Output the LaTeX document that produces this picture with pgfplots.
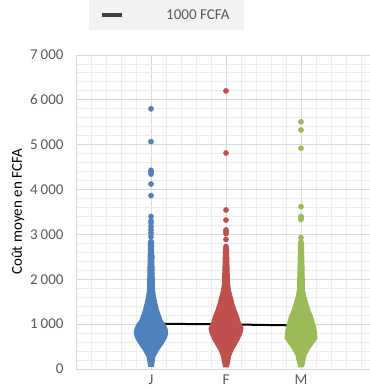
\documentclass[border=0pt]{standalone}
\usepackage{pgfplots}
\pgfplotsset{compat=1.18}
\usepackage{fontspec}
\setmainfont{Carlito}
\definecolor{cJ}{HTML}{4F81BD}
\definecolor{cF}{HTML}{C0504D}
\definecolor{cM}{HTML}{9BBB59}
\definecolor{txt}{HTML}{595959}
\definecolor{gmaj}{HTML}{D9D9D9}
\definecolor{gmin}{HTML}{EDEDED}
\definecolor{legbg}{HTML}{F2F2F2}
\begin{document}
\begin{tikzpicture}
\begin{axis}[
  width=300bp, height=314bp, scale only axis,
  xmin=0, xmax=4, ymin=0, ymax=7000,
  axis lines*=left,
  axis line style={gmaj, line width=0.9bp},
  xtick={1,2,3}, xticklabels={J,F,M},
  ytick={0,1000,...,7000},
  minor xtick={0,0.2,...,4},
  minor ytick={0,200,...,7000},
  major tick length=0pt, minor tick length=0pt,
  grid=both,
  major grid style={gmaj, line width=0.9bp},
  minor grid style={gmin, line width=0.9bp},
  font=\fontsize{15bp}{18bp}\selectfont,
  tick label style={text=txt},
  /pgf/number format/assume math mode=true,
  /pgf/number format/1000 sep={\hspace{0.2em}},
  yticklabel style={xshift=-9bp},
  xticklabel style={yshift=-2bp, font=\fontsize{15bp}{18bp}\selectfont},
  ylabel={Coût moyen en FCFA},
  ylabel style={text=txt},
  every axis y label/.style={at={([xshift=-58bp]axis description cs:0,0.5)}, rotate=90, anchor=center},
  legend style={at={(axis description cs:0.04333,1.17516)}, anchor=north west,
    fill=legbg, draw=none, inner sep=0bp, column sep=0bp, row sep=0bp,
    nodes={inner sep=0bp, text=txt, font=\fontsize{15bp}{18bp}\selectfont}},
  legend image code/.code={\path[draw=none, fill=none] (0bp,-15bp) rectangle (35bp,15bp);
    \draw[line width=3.5bp, draw=black!75] (13bp,0bp) -- (33bp,0bp);},
]
\addplot[black, line width=2bp] coordinates {(1,1010) (2,995) (3,970)};
\addlegendentry{\kern42bp 1000 FCFA\kern15bp}

% J dense region
\addplot[forget plot, fill=cJ, draw=cJ, line width=1bp, line join=round] coordinates {
 (1.033,60) (1.04,150) (1.053,275) (1.1,420) (1.167,580) (1.207,700) (1.223,800)
 (1.213,900) (1.193,980) (1.147,1090) (1.113,1250) (1.089,1390) (1.06,1600)
 (1.047,1760) (1.04,2300) (1.033,2850)
 (0.967,2850) (0.96,2300) (0.953,1760) (0.94,1600) (0.911,1390) (0.887,1250)
 (0.853,1090) (0.807,980) (0.787,900) (0.777,800) (0.793,700) (0.833,580)
 (0.9,420) (0.947,275) (0.96,150) (0.967,60)} -- cycle;
% F dense region
\addplot[forget plot, fill=cF, draw=cF, line width=1bp, line join=round] coordinates {
 (2.033,50) (2.047,150) (2.06,280) (2.093,420) (2.173,650) (2.213,800) (2.227,910)
 (2.193,1025) (2.167,1170) (2.133,1315) (2.107,1450) (2.087,1580) (2.06,1750)
 (2.047,1915) (2.04,2300) (2.033,2700)
 (1.967,2700) (1.96,2300) (1.953,1915) (1.94,1750) (1.913,1580) (1.893,1450)
 (1.867,1315) (1.833,1170) (1.807,1025) (1.773,910) (1.787,800) (1.827,650)
 (1.907,420) (1.94,280) (1.953,150) (1.967,50)} -- cycle;
% M dense region
\addplot[forget plot, fill=cM, draw=cM, line width=1bp, line join=round] coordinates {
 (3.033,50) (3.047,150) (3.067,310) (3.133,500) (3.18,600) (3.213,690) (3.207,800)
 (3.193,940) (3.173,1050) (3.156,1165) (3.12,1300) (3.089,1470) (3.067,1600)
 (3.047,1760) (3.04,2300) (3.033,2800)
 (2.967,2800) (2.96,2300) (2.953,1760) (2.933,1600) (2.911,1470) (2.88,1300)
 (2.844,1165) (2.827,1050) (2.807,940) (2.793,800) (2.787,690) (2.82,600)
 (2.867,500) (2.933,310) (2.953,150) (2.967,50)} -- cycle;

% outliers
\addplot[forget plot, only marks, mark=*, mark size=2.6bp, cJ] coordinates {
 (1,5800) (1,5070) (1,4430) (1,4390) (1,4345) (1,4125) (1,3865) (1,3400)
 (1,3300) (1,3250) (1,3170) (1,3100) (1,3030) (1,2950) (1,2840) (1,2800)
 (1,2760) (1,2700) (1,2650) (1,2600) (1,2550) (1.012,2500) (1,2450) (1,2400)};
\addplot[forget plot, only marks, mark=*, mark size=2.6bp, cF] coordinates {
 (2,6200) (2,4815) (2,3545) (2,3320) (2,3100) (2,3060) (2,3020) (2,2890)
 (2,2730) (2,2690) (2,2650) (2,2600) (2,2550) (2,2500) (2,2450)};
\addplot[forget plot, only marks, mark=*, mark size=2.6bp, cM] coordinates {
 (3,5510) (3,5330) (3,4920) (3,3620) (3,3400) (3,3370) (3,3330) (3,2930)
 (3,2830) (3,2800) (3,2760) (3,2700) (3,2650) (3,2600) (3,2550) (3,2500)};
\coordinate (ll) at (rel axis cs:0,0);
\coordinate (ur) at (rel axis cs:1,1);
\end{axis}
\pgfresetboundingbox
\path ([xshift=-76bp,yshift=-20bp]ll) rectangle ([xshift=-7bp,yshift=55bp]ur);
\end{tikzpicture}
\end{document}
